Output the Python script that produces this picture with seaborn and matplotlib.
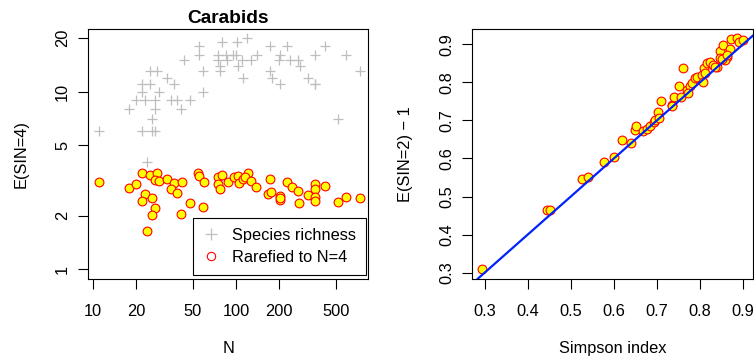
import numpy as np
import pandas as pd
import seaborn as sns
import matplotlib.pyplot as plt
from matplotlib.lines import Line2D
from matplotlib.ticker import FixedLocator, FixedFormatter, NullLocator

# --- datos ---
# panel izquierdo: riqueza de especies (cruces grises)
n_riqueza = [11, 18, 20, 23, 27, 22, 22, 25, 25, 28, 29, 33, 37, 35, 39, 41, 48, 27, 26, 22,
             26, 27, 43, 55, 55, 59, 59, 80, 102, 120, 75, 85, 96, 100, 75, 87, 111, 127, 140,
             78, 78, 104, 113, 172, 227, 204, 199, 240, 274, 282, 172, 179, 202, 319, 355, 357,
             357, 422, 589, 733, 518, 24]
riqueza = [6, 8, 9, 9, 9, 10, 11, 11, 13, 13, 10, 12, 11, 9, 9, 8, 9, 8, 7, 6,
           6, 6, 15, 18, 16, 13, 10, 19, 19, 20, 16, 16, 16, 16, 15, 15, 15, 15, 16,
           14, 13, 14, 12, 18, 18, 16, 15, 15, 15, 14, 13, 12, 11, 12, 11, 11,
           16, 18, 16, 13, 7, 4]

# panel izquierdo: rarefaccion a N=4 (circulos amarillos)
n_rare = [11, 18, 20, 22, 25, 28, 27, 29, 33, 37, 42, 35, 39, 23, 22, 26, 27, 26, 24, 48,
          41, 59, 54, 55, 60, 75, 80, 75, 78, 88, 97, 104, 105, 113, 121, 116, 127, 138,
          172, 169, 177, 202, 202, 204, 227, 246, 270, 277, 319, 355, 357, 355, 355, 422,
          518, 589, 733]
rare4 = [3.11, 2.88, 3.01, 3.50, 3.40, 3.50, 3.18, 3.14, 3.22, 3.05, 3.09, 2.83, 2.70, 2.64,
         2.43, 2.51, 2.22, 2.02, 1.65, 2.35, 2.04, 2.25, 3.50, 3.35, 3.11, 3.32, 3.40, 3.01,
         2.82, 3.11, 3.32, 3.35, 3.05, 3.21, 3.47, 3.32, 3.14, 2.90, 3.21, 2.64, 2.71, 2.59,
         2.46, 2.53, 3.09, 2.90, 2.76, 2.35, 2.62, 3.01, 2.82, 2.56, 2.43, 2.96, 2.38, 2.54,
         2.51]

# panel derecho: indice de Simpson vs E(SIN=2) - 1
simpson = [0.295, 0.446, 0.452, 0.527, 0.541, 0.577, 0.601, 0.640, 0.620, 0.649, 0.651,
           0.668, 0.676, 0.684, 0.692, 0.695, 0.703, 0.709, 0.734, 0.739, 0.751, 0.756,
           0.761, 0.769, 0.777, 0.781, 0.788, 0.792, 0.804, 0.809, 0.815, 0.823, 0.831,
           0.839, 0.846, 0.854, 0.862, 0.869, 0.873, 0.885, 0.890, 0.899, 0.846, 0.858,
           0.736, 0.773, 0.807, 0.811, 0.834, 0.850, 0.705, 0.862]
esin2 = [0.309, 0.465, 0.464, 0.547, 0.551, 0.590, 0.604, 0.641, 0.649, 0.675, 0.684,
         0.672, 0.678, 0.686, 0.697, 0.701, 0.721, 0.751, 0.741, 0.762, 0.790, 0.762,
         0.837, 0.780, 0.789, 0.798, 0.811, 0.815, 0.819, 0.837, 0.850, 0.854, 0.846,
         0.841, 0.882, 0.898, 0.867, 0.888, 0.914, 0.917, 0.907, 0.910, 0.863, 0.859,
         0.738, 0.771, 0.802, 0.824, 0.839, 0.861, 0.706, 0.872]

df_riq = pd.DataFrame({'N': n_riqueza, 'S': riqueza})
df_rare = pd.DataFrame({'N': n_rare, 'S': rare4})
df_simp = pd.DataFrame({'simpson': simpson, 'esin2': esin2})

# --- estilo ---
sns.set_style('ticks')
plt.rcParams['font.family'] = ['Liberation Sans', 'DejaVu Sans']
plt.rcParams['font.size'] = 11.8
for k in ['text.color', 'axes.labelcolor', 'xtick.color', 'ytick.color']:
    plt.rcParams[k] = 'black'

fig = plt.figure(figsize=(7.54, 3.58), dpi=100)
ax1 = fig.add_axes([0.1171, 0.2207, 0.3716, 0.6983])
ax2 = fig.add_axes([0.6264, 0.2207, 0.3729, 0.6983])

# Grafica 1: log-log
sns.scatterplot(data=df_riq, x='N', y='S', ax=ax1, marker='+', color='#BEBEBE',
                s=55, linewidth=0.9, zorder=2)
sns.scatterplot(data=df_rare, x='N', y='S', ax=ax1, marker='o', color='yellow',
                edgecolor='red', s=40, linewidth=0.8, zorder=3)
ax1.set_xscale('log')
ax1.set_yscale('log')
ax1.set_xlim(9.27, 847)
ax1.set_ylim(0.882, 22.5)
xt1 = [10, 20, 50, 100, 200, 500]
yt1 = [1, 2, 5, 10, 20]
ax1.xaxis.set_major_locator(FixedLocator(xt1))
ax1.xaxis.set_major_formatter(FixedFormatter([str(v) for v in xt1]))
ax1.yaxis.set_major_locator(FixedLocator(yt1))
ax1.yaxis.set_major_formatter(FixedFormatter([str(v) for v in yt1]))
ax1.xaxis.set_minor_locator(NullLocator())
ax1.yaxis.set_minor_locator(NullLocator())
ax1.set_title('Carabids', fontweight='bold', fontsize=13.8, pad=4)
ax1.set_xlabel('N')
ax1.set_ylabel('E(SIN=4)')

handles = [Line2D([], [], ls='none', marker='+', color='#BEBEBE', markersize=8, mew=0.9),
           Line2D([], [], ls='none', marker='o', mfc='none', mec='red', markersize=6, mew=0.8)]
leg = ax1.legend(handles, ['Species richness', 'Rarefied to N=4'], loc='lower right',
                 bbox_to_anchor=(0.991, 0.016), borderaxespad=0, fancybox=False,
                 framealpha=1, edgecolor='black', handlelength=1.0, borderpad=0.6,
                 handletextpad=0.8, labelspacing=0.45, fontsize=11.8)
leg.get_frame().set_linewidth(0.8)

# Grafica 2: Simpson vs E(SIN=2)-1
sns.scatterplot(data=df_simp, x='simpson', y='esin2', ax=ax2, marker='o', color='yellow',
                edgecolor='red', s=40, linewidth=0.8, zorder=2)
ax2.axline((0, 0), slope=1, color='#0022FF', lw=1.6, zorder=3)
ax2.set_xlim(0.2715, 0.924)
ax2.set_ylim(0.2835, 0.940)
t2 = [0.3, 0.4, 0.5, 0.6, 0.7, 0.8, 0.9]
ax2.xaxis.set_major_locator(FixedLocator(t2))
ax2.yaxis.set_major_locator(FixedLocator(t2))
ax2.xaxis.set_major_formatter(FixedFormatter([str(v) for v in t2]))
ax2.yaxis.set_major_formatter(FixedFormatter([str(v) for v in t2]))
ax2.set_xlabel('Simpson index')
ax2.set_ylabel('E(SIN=2) \u2212 1')

for ax, yl in [(ax1, -0.241), (ax2, -0.236)]:
    for sp in ax.spines.values():
        sp.set_visible(True)
        sp.set_color('black')
        sp.set_linewidth(0.8)
    ax.tick_params(axis='both', length=7, width=0.8, color='black', labelcolor='black',
                   labelsize=11.8)
    ax.tick_params(axis='x', pad=11)
    ax.tick_params(axis='y', pad=6, labelrotation=90)
    for lab in ax.get_yticklabels():
        lab.set_va('center')
    ax.yaxis.label.set_va('center')
    ax.yaxis.set_label_coords(yl, 0.5)
    ax.xaxis.label.set_va('center')
    ax.xaxis.set_label_coords(0.5, -0.28)

fig.savefig('out.png', dpi=100)
